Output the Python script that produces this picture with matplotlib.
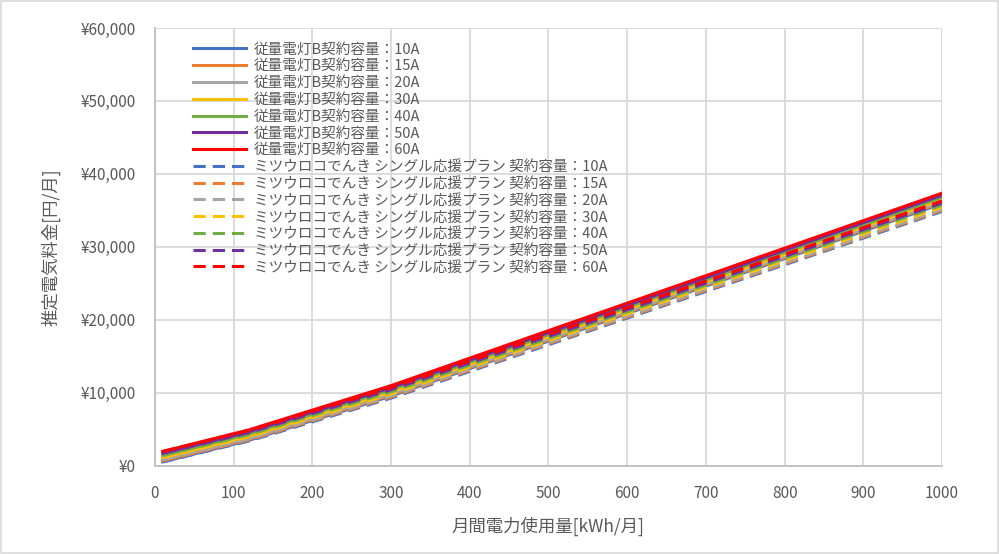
import matplotlib.pyplot as plt
from matplotlib.ticker import FuncFormatter

plt.rcParams['font.family'] = ['Noto Sans CJK JP', 'DejaVu Sans']

kwh = [10, 120, 300, 1000]
amps = ['10A', '15A', '20A', '30A', '40A', '50A', '60A']
colors = ['#4472C4', '#ED7D31', '#A5A5A5', '#FFC000', '#70AD47', '#7030A0', '#FF0000']

# 従量電灯B
tepco = [
    [556, 3524, 9568, 35937],
    [699, 3667, 9711, 36080],
    [842, 3810, 9854, 36223],
    [1128, 4096, 10140, 36509],
    [1414, 4382, 10426, 36795],
    [1700, 4668, 10712, 37081],
    [1986, 4954, 10998, 37367],
]

# ミツウロコでんき シングル応援プラン
mitsu = [
    [548, 3427, 9290, 34867],
    [691, 3570, 9433, 35010],
    [834, 3713, 9576, 35153],
    [1120, 3999, 9862, 35439],
    [1406, 4285, 10148, 35725],
    [1692, 4571, 10434, 36011],
    [1978, 4857, 10720, 36297],
]

fig = plt.figure(figsize=(9.99, 5.54), dpi=100)
ax = fig.add_axes([0.155, 0.159, 0.788, 0.7905])

for a, c, v in zip(amps, colors, tepco):
    ax.plot(kwh, v, color=c, lw=2.2, label='従量電灯B契約容量：' + a)
for a, c, v in zip(amps, colors, mitsu):
    ax.plot(kwh, v, color=c, lw=2.2, dashes=(4, 2.3),
            label='ミツウロコでんき シングル応援プラン 契約容量：' + a)

ax.set_xlim(0, 1000)
ax.set_ylim(0, 60000)
ax.set_xticks(range(0, 1001, 100))
ax.set_yticks(range(0, 60001, 10000))
ax.yaxis.set_major_formatter(FuncFormatter(lambda v, p: '¥{:,.0f}'.format(v)))
ax.grid(True, color='#d9d9d9', lw=1.3)
ax.set_axisbelow(True)
for s in ['top', 'right']:
    ax.spines[s].set_visible(False)
for s in ['left', 'bottom']:
    ax.spines[s].set_color('#bfbfbf')
    ax.spines[s].set_linewidth(1.3)
ax.tick_params(length=0, pad=14, labelsize=11, labelcolor='#595959')

ax.set_xlabel('月間電力使用量[kWh/月]', fontsize=12.5, color='#595959', labelpad=10)
ax.set_ylabel('推定電気料金[円/月]', fontsize=12.5, color='#595959', labelpad=14)

leg = ax.legend(loc='upper left', bbox_to_anchor=(0.036, 0.99), frameon=False,
                fontsize=10.5, handlelength=3.6, handletextpad=0.55,
                labelspacing=0.19, borderaxespad=0.3)
for t in leg.get_texts():
    t.set_color('#595959')

fig.patches.append(plt.Rectangle((0.001, 0.001), 0.998, 0.997, transform=fig.transFigure,
                                 fill=False, edgecolor='#d9d9d9', lw=1.2))

fig.savefig('out.png', dpi=100)
